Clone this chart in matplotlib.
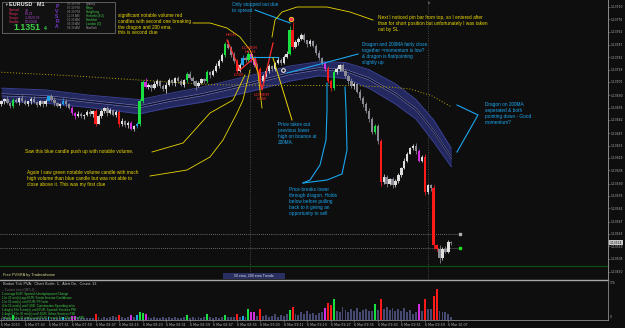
import matplotlib
matplotlib.use("Agg")
import matplotlib.pyplot as plt

plt.rcParams['font.family'] = ['Liberation Sans', 'DejaVu Sans']

# ---- data (prices as points above base) ----
base = 1.13480
close_pts = [
    203, 206, 201, 198, 205, 202, 207, 204, 200, 203, 206, 202, 199, 203, 200, 204, 209, 205, 201, 198,
    200, 204, 200, 196, 190, 186, 189, 186, 188, 191, 189, 192, 178, 186, 192, 196, 190, 193, 188, 191,
    177, 181, 176, 179, 172, 175, 178, 203, 225, 219, 222, 218, 223, 226, 221, 217, 222, 227, 224, 229,
    226, 222, 227, 234, 230, 226, 221, 224, 228, 226, 236, 233, 238, 243, 249, 255, 268, 264, 256, 249,
    238, 244, 252, 250, 257, 251, 244, 240, 226, 232, 238, 243, 240, 246, 250, 247, 253, 257, 284, 265,
    270, 274, 278, 272, 268, 271, 266, 258, 252, 246, 240, 226, 218, 236, 240, 244, 238, 232, 226, 220,
    223, 214, 207, 200, 192, 183, 168, 175, 158, 112, 118, 110, 115, 108, 113, 120, 128, 136, 144, 150,
    153, 147, 136, 140, 100, 108, 105, 40, 36, 26, 36, 33, 44, 43]
first_open = 200
up_wick = ("21312213212312121231" "13212132123123212312" "23122123242132123212"
           "32123212213223232423" "22323213223212322349" "32321322312323213223"
           "21322322323213221321" "23223213242321")
dn_wick = ("23122132123121321231" "21322312312431223123" "32231223212312324123"
           "21322352122312212232" "32122322621322132123" "23123213223232231232"
           "32232322353423223221" "23223234263222")
vol_class = ("nnnngnnnnnnnnnnnbnnn" "nbnnmmnnnnnnrnnnnnnn" "rnnnmnbggmnnnnnnnnnn"
             "nnngnnnnnngnnnnngnnn" "rnbngmmnrnnnnnnnnngr" "nnnnnnnnnnmrrgnnnnnn"
             "nnnnnnngnrnnnnnnnnnn" "nnmnrnnrrnnnnn")
volume = [
    10, 12, 9, 11, 22, 10, 8, 11, 9, 12, 10, 8, 9, 11, 10, 9, 16, 10, 9, 8,
    10, 15, 11, 10, 19, 20, 12, 9, 10, 8, 11, 9, 26, 12, 10, 14, 9, 14, 19, 12,
    24, 14, 11, 14, 24, 12, 24, 38, 33, 28, 12, 10, 14, 9, 11, 13, 10, 12, 9, 14,
    11, 10, 12, 24, 11, 13, 10, 12, 9, 14, 28, 12, 10, 14, 11, 16, 22, 14, 12, 15,
    28, 13, 19, 16, 52, 38, 38, 20, 52, 18, 24, 14, 20, 28, 16, 22, 19, 26, 47, 61,
    30, 24, 38, 26, 42, 28, 34, 24, 31, 36, 56, 80, 70, 99, 42, 38, 60, 45, 36, 50,
    40, 55, 38, 48, 52, 44, 40, 75, 45, 99, 50, 61, 48, 56, 40, 52, 44, 58, 38, 47,
    30, 36, 75, 40, 99, 52, 50, 113, 146, 42, 38, 38, 28, 14]
vol_max_label = 174
bid_label = '1.13514'

band_idx = [0, 15, 30, 47, 57, 68, 78, 88, 98, 108, 117, 125, 134, 141, 147, 153]
band_hi = [218, 216, 210, 205, 212, 219, 227, 235, 243, 248, 247, 239, 223, 205, 182, 150]
band_lo = [203, 201, 196, 189, 196, 202, 209, 217, 226, 232, 229, 218, 200, 183, 157, 129]
ema_idx = [0, 24, 48, 71, 95, 119, 133, 139, 146, 153]
ema_pts = [236, 232, 227, 222, 221, 221, 219, 217, 210, 197]
level_pts = [53, 37]
green_level_pts = 17
session_idx = [84.5, 145.1]

time_labels = ['6 Mar 2019', '6 Mar 07:43', '6 Mar 07:51', '6 Mar 07:59', '6 Mar 08:07',
               '6 Mar 08:15', '6 Mar 08:23', '6 Mar 08:31', '6 Mar 08:39', '6 Mar 08:47',
               '6 Mar 08:55', '6 Mar 09:03', '6 Mar 09:11', '6 Mar 09:19', '6 Mar 09:27',
               '6 Mar 09:35', '6 Mar 09:43', '6 Mar 09:51', '6 Mar 09:59', '6 Mar 10:07']
price_labels = ['1.13790', '1.13776', '1.13762', '1.13747', '1.13733', '1.13719', '1.13705',
                '1.13690', '1.13676', '1.13662', '1.13647', '1.13633', '1.13619', '1.13605',
                '1.13590', '1.13576', '1.13562', '1.13547', '1.13533', '1.13519', '1.13505',
                '1.13490']

BG = '#0e0e0e'
CLS = {'g': '#18e040', 'r': '#ff1a1a', 'b': '#1e9fe8', 'm': '#d22ee0'}
YEL = '#ecd800'
CYAN = '#1aa6ee'
RED = '#ff2a2a'

def P(p):
    return base + p / 1e5

W, H = 625, 328
fig = plt.figure(figsize=(6.25, 3.28), dpi=100, facecolor=BG)

def px_axes(l, t, r, b):
    return fig.add_axes([l / W, 1 - b / H, (r - l) / W, (b - t) / H])

ax = px_axes(0, 0, 608, 279)
axv = px_axes(0, 280, 608, 320)
ov = fig.add_axes([0, 0, 1, 1])
ov.set_xlim(0, W)
ov.set_ylim(H, 0)
ov.axis('off')
ov.patch.set_alpha(0)

n = len(close_pts)
opens = [first_open] + close_pts[:-1]
xlim = (-0.51, 206.3)

# ---- main price panel ----
ax.set_facecolor(BG)
ax.set_xlim(*xlim)
ax.set_ylim(P(2), P(317.8))
for s in ['top', 'left', 'bottom']:
    ax.spines[s].set_visible(False)
ax.spines['right'].set_color('#8c8c8c')
ax.spines['right'].set_linewidth(0.6)
ax.set_xticks([])
ax.yaxis.tick_right()
ax.set_yticks([float(s) for s in price_labels])
ax.set_yticklabels(price_labels, fontsize=2.15, color='#b4b4b4', family='DejaVu Sans')
ax.tick_params(axis='y', length=1.5, width=0.4, color='#8c8c8c', pad=0.5)

# dragon band
ax.fill_between(band_idx, [P(v) for v in band_lo], [P(v) for v in band_hi],
                color='#23285f', lw=0, zorder=1)
ax.plot(band_idx, [P(v) for v in band_hi], color='#3a4090', lw=0.7, zorder=1.2)
ax.plot(band_idx, [P(v) for v in band_lo], color='#3a4090', lw=0.7, zorder=1.2)
mid = [(a + b) / 2 for a, b in zip(band_hi, band_lo)]
ax.plot(band_idx, [P(v + 1.2) for v in mid], color='#7a80b8', lw=0.4, zorder=1.3)
ax.plot(band_idx, [P(v - 1.2) for v in mid], color='#7a80b8', lw=0.4, zorder=1.3)
ax.plot(band_idx, [P(v) for v in mid], color='#0c0c1c', lw=0.6, zorder=1.4)

# 200 ema
ax.plot(ema_idx, [P(v) for v in ema_pts], color='#bba800', lw=0.7, ls=(0, (1, 2)), zorder=1.5)

# levels and separators
for lv, mc in zip(level_pts, ['#b0b0b0', '#20e020']):
    ax.plot([xlim[0], 155.5], [P(lv), P(lv)], color='#8a8a8a', lw=0.6, ls=(0, (1, 1.5)), zorder=1.6)
    ax.plot([155.8], [P(lv)], marker='s', ms=1.6, color=mc, zorder=3)
ax.axhline(P(green_level_pts), color='#0f4d12', lw=0.9, zorder=1.6)
for sx in session_idx:
    ax.axvline(sx, color='#4a4a4a', lw=0.7, ls=(0, (1, 1.5)), zorder=0.5)

# candles
for i in range(n):
    o, c = opens[i], close_pts[i]
    hi = max(o, c) + int(up_wick[i])
    lo = min(o, c) - int(dn_wick[i])
    k = vol_class[i]
    if k in CLS:
        col = CLS[k]
    else:
        col = '#dedede' if c >= o else '#8a8a94'
    ax.vlines(i, P(lo), P(hi), color=col, lw=0.55, zorder=2)
    h = c - o if abs(c - o) >= 0.6 else 0.6
    ax.bar(i, h / 1e5, bottom=P(o), width=0.8, color=col, lw=0, zorder=2.1)

# ---- volume panel ----
axv.set_facecolor(BG)
axv.set_xlim(*xlim)
axv.set_ylim(0, 188)
for s in ['top', 'left', 'right']:
    axv.spines[s].set_visible(False)
axv.spines['bottom'].set_color('#8c8c8c')
axv.spines['bottom'].set_linewidth(0.6)
vcols = [CLS.get(k, '#464a72') for k in vol_class]
axv.bar(range(n), volume, width=0.65, color=vcols, lw=0)
axv.set_yticks([])
axv.set_xticks(range(0, 8 * len(time_labels), 8))
axv.set_xticklabels(time_labels, fontsize=2.3, color='#b4b4b4', ha='left', family='DejaVu Sans')
axv.tick_params(axis='x', length=1.5, width=0.4, color='#8c8c8c', pad=0.6)
axv.text(1.003, vol_max_label / 188, str(vol_max_label), transform=axv.transAxes,
         fontsize=2.2, color='#b4b4b4', va='center', family='DejaVu Sans')
axv.text(1.003, 0.07, '0', transform=axv.transAxes, fontsize=2.2, color='#b4b4b4',
         va='center', family='DejaVu Sans')

# ---- overlay: frame lines ----
ov.plot([0, 608], [279.6, 279.6], color='#a8a8a8', lw=1.0)
ov.plot([608.3, 608.3], [0, 320], color='#8c8c8c', lw=0.6)

# price tag
ax.text(1.003, P(close_pts[-1]), bid_label, transform=ax.get_yaxis_transform(),
        fontsize=2.15, color='#101010', va='center', family='DejaVu Sans',
        bbox=dict(boxstyle='square,pad=0.2', fc='#c8c8c8', ec='none'))

# ---- info box top-left ----
ov.add_patch(plt.Rectangle((2, 1.5), 113, 31, fc='#111111', ec='#6a6a6a', lw=0.6))
ov.text(4, 5, '\u25bc', fontsize=2.6, color='#c0c0c0', va='center')
ov.text(9, 5, 'EURUSD   M1', fontsize=4.0, color='#e8e8e8', va='center', weight='bold')
for k, (lab, val) in enumerate([('Spread', '19'), ('Range', '63.21'),
                                ('Swaps', '-1.85/0.38'), ('Candle', '00:30:06')]):
    ov.text(9, 10.5 + 3.8 * k, lab, fontsize=2.4, color='#e03060', va='center')
    ov.text(25, 10.5 + 3.8 * k, val, fontsize=2.4, color='#b04ad0', va='center')
ov.text(13, 27.5, '1.1351', fontsize=6.4, color='#3ed24a', va='center', weight='bold')
ov.text(44, 28.5, '4', fontsize=3.6, color='#3ed24a', va='center', weight='bold')
for k, ch in enumerate('PVSRA'):
    ov.text(57, 6 + 5.2 * k, ch, fontsize=3.6, color='#7a3ad0', va='center', ha='center', weight='bold')
sessions = [('05:39 PM', 'Sydney', '#9a9a9a'), ('07:39 PM', 'Tokyo', '#3ed24a'),
            ('04:39 PM', 'HongKong', '#3ed24a'), ('11:39 AM', 'Helsinki (EU)', '#3ed24a'),
            ('10:39 AM', 'Frankfurt', '#3ed24a'), ('09:39 AM', 'London (O)', '#3ed24a'),
            ('04:39 AM', 'NewYork', '#9a9a9a')]
for k, (t, nm, c) in enumerate(sessions):
    ov.text(67, 4.2 + 4.0 * k, t, fontsize=2.2, color='#8a8a8a', va='center')
    ov.text(86, 4.2 + 4.0 * k, nm, fontsize=2.2, color=c, va='center')

# ---- annotations ----
FS = 3.4
LS = 1.25
ov.text(118, 12.5, 'significant notable volume red\ncandles with second one breaking\n'
        'the dragon and 200 ema.\nthis is second clue', fontsize=FS, color=YEL, va='top', linespacing=LS)
ov.text(378, 14.5, 'Next I noticed pin bar from top, so I entered after\n'
        'than for short position but unfortunately I was taken\nout by SL.',
        fontsize=FS, color=YEL, va='top', linespacing=LS)
ov.text(25, 149.5, 'Saw this blue candle push up with notable volume.', fontsize=FS, color=YEL, va='top')
ov.text(27, 170, 'Again I saw green notable volume candle with much\n'
        'high volume than blue candle but was not able to\nclose above it. This was my first clue',
        fontsize=FS, color=YEL, va='top', linespacing=LS)
ov.text(232, 2, 'Only stopped out due\nto spread', fontsize=FS, color=CYAN, va='top', linespacing=LS)
ov.text(362, 42, 'Dragon and 200MA fairly close\ntogether =momentum is low?\n'
        '& dragon is flat/pointing\nslightly up', fontsize=FS, color=CYAN, va='top', linespacing=LS)
ov.text(278, 122, 'Price takes out\nprevious lower\nhigh on bounce at\n200MA.',
        fontsize=FS, color=CYAN, va='top', linespacing=LS)
ov.text(289, 187, 'Price breaks lower\nthrough dragon. Holds\nbelow before pulling\n'
        'back to it giving an\nopportunity to sell', fontsize=FS, color=CYAN, va='top', linespacing=LS)
ov.text(485, 102, 'Dragon on 200MA\nseperated & both\npointing down - Good\nmomentum?',
        fontsize=FS, color=CYAN, va='top', linespacing=LS)

# red swing labels and zigzag
ov.plot([227, 240, 255, 262, 273], [40, 70, 57, 90, 43], color=RED, lw=0.9)
ov.text(231, 35, 'HIGH', fontsize=3.2, color=RED, ha='center', va='center')
ov.text(250, 50, 'LOWER\nHIGH', fontsize=3.2, color=RED, ha='center', va='center', linespacing=1.3)
ov.text(239, 75, 'LOW', fontsize=3.2, color=RED, ha='center', va='center')
ov.text(262, 97, 'LOWER\nLOW', fontsize=3.2, color=RED, ha='center', va='center', linespacing=1.3)

# cyan pointers
ov.plot([255, 290], [10, 23], color=CYAN, lw=0.8)
ov.plot([250, 278], [57, 57], color=CYAN, lw=0.8)
ov.plot([358, 287], [54, 73], color=CYAN, lw=0.8)
ov.plot([457, 478, 457], [105, 115, 152], color=CYAN, lw=0.8)
ov.plot([303, 310, 320, 326, 327, 327], [183, 180, 165, 140, 110, 83], color=CYAN, lw=0.8)
ov.plot([303, 327, 342, 347, 346, 345], [183, 180, 174, 150, 110, 87], color=CYAN, lw=0.8)

# yellow pointers
ov.plot([273, 292], [58, 120], color=YEL, lw=0.7)
ov.plot([193, 210, 227, 240, 250, 258, 262], [23, 23, 28, 37, 50, 73, 108], color=YEL, lw=0.6)
ov.plot([373, 350, 327, 297, 282, 275, 272], [20, 12, 7, 7, 12, 20, 37], color=YEL, lw=0.6)
ov.plot([152, 183, 210, 233, 245], [152, 143, 113, 100, 75], color=YEL, lw=0.6)
ov.plot([150, 187, 210, 223, 237, 243, 250], [176, 170, 157, 140, 113, 100, 70], color=YEL, lw=0.6)

# markers
ov.plot([291], [19], marker='o', ms=3.2, mfc='#ff3050', mec='#f0d020', mew=0.6)
ov.plot([283], [70], marker='o', ms=2.6, mfc='#101010', mec='#f0f0f0', mew=0.8)
ov.text(428, 3, 'Lo', fontsize=2.2, color='#9a9a9a', va='center')

# bottom labels of main panel
ov.text(3, 275, 'Free PVSRA by Traderathome', fontsize=2.8, color='#d8d488', va='center')
ov.add_patch(plt.Rectangle((223, 272.5), 62, 6, fc='#2a2f62', ec='none'))
ov.text(254, 275.5, '50 ema, 200 ema Trends', fontsize=2.5, color='#e0e0e0', ha='center', va='center')

# volume panel texts
ov.text(3, 283.5, 'Broker Tick PVA:  Chart Scale: 1,  Alert On,  Count: 13', fontsize=2.8,
        color='#c8c8c8', va='center')
news = ['-- Current time (GMT+2) --',
        '1 min ago EUR: Spanish Unemployment Change',
        '1 hr 21 min(s) ago EUR: Sentix Investor Confidence',
        '1 hr 51 min(s) until EUR: PPI m/m',
        '4 hr 51 min(s) until USD: Construction Spending m/m',
        '1 day(s) 8 hr 6 min(s) until EUR: Spanish Services PMI',
        '1 day(s) 8 hr 36 min(s) until EUR: Italian Services PMI',
        '1 day(s) 8 hr 41 min(s) until EUR: French Final Services PMI']
for k, line in enumerate(news):
    ov.text(2, 289.5 + 4.1 * k, line, fontsize=2.2, color='#6a6a6a' if k == 0 else '#3ed24a', va='center')

fig.savefig('out.png', dpi=100, facecolor=BG)
